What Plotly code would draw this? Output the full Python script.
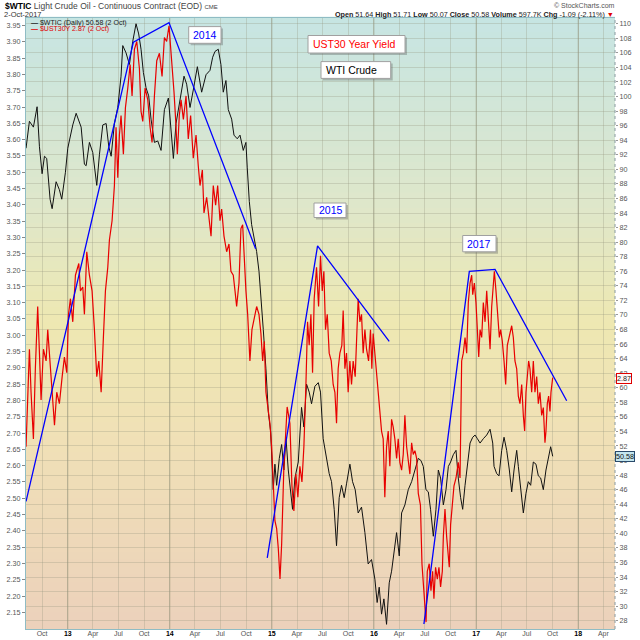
import pandas as pd
import plotly.graph_objects as go

# ---- data (t = decimal year) ----
wti_t = [2012.592, 2012.625, 2012.664, 2012.700, 2012.723, 2012.749, 2012.772, 2012.794, 2012.827, 2012.847,
         2012.886, 2012.918, 2012.941, 2012.977, 2013.000, 2013.049, 2013.082, 2013.114, 2013.131, 2013.163,
         2013.180, 2013.212, 2013.245, 2013.284, 2013.310, 2013.343, 2013.376, 2013.402, 2013.425, 2013.457,
         2013.490, 2013.522, 2013.539, 2013.571, 2013.604, 2013.637, 2013.669, 2013.695, 2013.718, 2013.741,
         2013.767, 2013.793, 2013.816, 2013.849, 2013.882, 2013.914, 2013.947,
         2013.986, 2014.018, 2014.035, 2014.061, 2014.100, 2014.139, 2014.165, 2014.198, 2014.230, 2014.270,
         2014.312, 2014.355, 2014.394, 2014.420, 2014.443, 2014.475, 2014.501, 2014.524, 2014.550, 2014.573,
         2014.606, 2014.629, 2014.661, 2014.688, 2014.720, 2014.746, 2014.759, 2014.779, 2014.802, 2014.825,
         2014.851, 2014.874, 2014.890, 2014.916, 2014.942, 2014.965, 2014.988, 2015.014, 2015.030, 2015.047,
         2015.073, 2015.096, 2015.118, 2015.138, 2015.161,
         2015.203, 2015.226, 2015.259, 2015.291, 2015.314, 2015.340, 2015.366, 2015.389, 2015.422, 2015.455,
         2015.477, 2015.503, 2015.530, 2015.562, 2015.585, 2015.611, 2015.634, 2015.660, 2015.683, 2015.709,
         2015.732, 2015.765, 2015.791, 2015.817, 2015.846, 2015.879, 2015.912, 2015.944, 2015.977, 2016.010,
         2016.032, 2016.052, 2016.075, 2016.098, 2016.124, 2016.150, 2016.173, 2016.199, 2016.222, 2016.248,
         2016.271, 2016.303, 2016.336, 2016.369, 2016.401, 2016.434,
         2016.460, 2016.483, 2016.509, 2016.532, 2016.554, 2016.581, 2016.607, 2016.630, 2016.652, 2016.679,
         2016.705, 2016.728, 2016.750, 2016.776, 2016.803, 2016.825, 2016.848, 2016.868, 2016.891, 2016.914,
         2016.940, 2016.966, 2016.989, 2017.012, 2017.038, 2017.070, 2017.103, 2017.136, 2017.162, 2017.175,
         2017.201, 2017.224, 2017.250, 2017.273, 2017.299, 2017.325, 2017.348, 2017.371, 2017.397, 2017.413,
         2017.439, 2017.462, 2017.488, 2017.511, 2017.534, 2017.560, 2017.586, 2017.609, 2017.632, 2017.658,
         2017.684, 2017.707, 2017.730, 2017.750]
wti_v = [92.9, 96.6, 95.8, 98.6, 93.1, 89.4, 91.8, 91.5, 85.9, 84.6,
         88.3, 87.2, 85.9, 89.6, 92.9, 96.1, 97.7, 96.6, 95.8, 90.7,
         90.5, 93.7, 92.3, 87.8, 92.0, 96.1, 96.3, 93.1, 91.8, 96.3,
         98.5, 102.8, 107.0, 106.0, 104.4, 107.6, 110.0, 108.6, 106.5, 103.3,
         101.2, 100.1, 96.9, 93.7, 93.9, 92.6, 98.2,
         99.8, 94.7, 91.5, 96.3, 99.6, 102.8, 101.7, 98.5, 100.9, 104.1,
         100.6, 103.0, 103.6, 105.4, 106.2, 106.5, 104.4, 100.6, 102.2, 98.2,
         96.9, 94.7, 94.2, 94.7, 92.6, 93.7, 90.2, 85.6, 82.4, 80.8,
         78.7, 76.0, 73.3, 68.0, 62.6, 56.7, 54.0, 46.0, 49.5, 46.6,
         50.3, 52.2, 48.7, 53.2, 48.7,
         43.3, 47.6, 49.8, 57.3, 54.6, 60.5, 59.4, 57.8, 60.2, 60.7,
         59.4, 53.0, 50.8, 48.2, 47.1, 43.3, 38.3, 44.9, 46.6, 44.9,
         46.8, 49.5, 47.1, 46.0, 42.8, 43.6, 40.1, 35.8, 36.4, 33.7,
         30.5, 32.6, 28.9, 31.0, 27.5, 33.2, 34.8, 38.0, 40.1, 36.9,
         42.8, 43.9, 46.0, 47.1, 48.7, 50.3,
         50.0, 49.2, 46.0, 45.7, 43.3, 39.6, 43.3, 48.7, 47.6, 43.9,
         46.0, 49.2, 49.8, 50.8, 51.4, 47.6, 44.9, 43.3, 46.6, 49.8,
         52.4, 53.2, 53.5, 53.0, 52.4, 53.0, 53.5, 54.3, 52.4, 49.2,
         48.2, 47.9, 51.4, 53.2, 51.4, 48.7, 45.7, 48.7, 51.4, 49.2,
         46.0, 42.8, 45.5, 47.1, 46.6, 49.8, 49.5, 47.9, 47.6, 46.0,
         48.7, 50.3, 51.9, 50.58]

ust_t = [2012.592, 2012.608, 2012.625, 2012.641, 2012.664, 2012.683, 2012.706, 2012.723, 2012.739, 2012.762,
         2012.788, 2012.804, 2012.827, 2012.847, 2012.870, 2012.892, 2012.918, 2012.945, 2012.967, 2012.990,
         2013.007, 2013.026, 2013.049, 2013.075, 2013.108, 2013.124, 2013.147, 2013.163, 2013.186, 2013.212,
         2013.238, 2013.261, 2013.284, 2013.304, 2013.327, 2013.349, 2013.369, 2013.392, 2013.408, 2013.434,
         2013.457, 2013.473, 2013.490, 2013.506, 2013.522, 2013.545, 2013.565, 2013.588, 2013.611, 2013.630,
         2013.653, 2013.676, 2013.702, 2013.718, 2013.735, 2013.758, 2013.784, 2013.807, 2013.826, 2013.849,
         2013.872, 2013.898, 2013.924, 2013.947,
         2013.969, 2013.992, 2014.008, 2014.028, 2014.041, 2014.057, 2014.074, 2014.093, 2014.110, 2014.133,
         2014.159, 2014.181, 2014.204, 2014.230, 2014.257, 2014.279, 2014.296, 2014.319, 2014.335, 2014.361,
         2014.384, 2014.404, 2014.426, 2014.449, 2014.469, 2014.492, 2014.508, 2014.531, 2014.557, 2014.580,
         2014.599, 2014.622, 2014.639, 2014.655, 2014.678, 2014.697, 2014.714, 2014.730, 2014.746, 2014.763,
         2014.785, 2014.805, 2014.825, 2014.851, 2014.874, 2014.893, 2014.910, 2014.926, 2014.942, 2014.965,
         2014.981, 2014.998, 2015.014, 2015.030, 2015.047, 2015.063, 2015.080, 2015.096, 2015.118, 2015.150,
         2015.177,
         2015.197, 2015.216, 2015.236, 2015.255, 2015.275, 2015.295, 2015.314, 2015.334, 2015.350, 2015.366,
         2015.383, 2015.399, 2015.415, 2015.438, 2015.458, 2015.477, 2015.494, 2015.510, 2015.526, 2015.543,
         2015.562, 2015.582, 2015.601, 2015.618, 2015.634, 2015.650, 2015.667, 2015.686, 2015.699, 2015.716,
         2015.732, 2015.748, 2015.765, 2015.781, 2015.797, 2015.817, 2015.830, 2015.846, 2015.863, 2015.879,
         2015.895, 2015.912, 2015.928, 2015.948, 2015.967, 2015.980, 2015.993, 2016.010, 2016.026, 2016.042,
         2016.058, 2016.075, 2016.091, 2016.107, 2016.124, 2016.140, 2016.156, 2016.173, 2016.189, 2016.205,
         2016.222, 2016.238, 2016.254, 2016.271, 2016.287, 2016.303, 2016.320, 2016.336, 2016.352, 2016.369,
         2016.385, 2016.401, 2016.418, 2016.434,
         2016.455, 2016.470, 2016.482, 2016.497, 2016.510,
         2016.522, 2016.541, 2016.558, 2016.574, 2016.587, 2016.603, 2016.620, 2016.636, 2016.652, 2016.669,
         2016.679, 2016.695, 2016.711, 2016.728, 2016.737, 2016.750, 2016.767, 2016.783, 2016.803, 2016.825,
         2016.842, 2016.858, 2016.874, 2016.891, 2016.907, 2016.923, 2016.940, 2016.956, 2016.966, 2016.982,
         2016.998, 2017.012, 2017.025, 2017.038, 2017.054, 2017.070, 2017.087, 2017.103, 2017.119, 2017.136,
         2017.152, 2017.168, 2017.178, 2017.194, 2017.211, 2017.227, 2017.240, 2017.256, 2017.273, 2017.289,
         2017.305, 2017.325, 2017.348, 2017.364, 2017.380, 2017.397, 2017.413, 2017.429, 2017.446, 2017.462,
         2017.475, 2017.488, 2017.501, 2017.514, 2017.527, 2017.544, 2017.560, 2017.576, 2017.593, 2017.609,
         2017.625, 2017.642, 2017.658, 2017.674, 2017.684, 2017.697, 2017.710, 2017.723, 2017.733, 2017.750]
ust_v = [2.658, 2.778, 2.957, 2.825, 2.682, 2.897, 3.088, 2.945, 2.801, 2.957,
         2.921, 3.017, 2.921, 2.825, 2.724, 2.825, 2.790, 2.873, 2.933, 2.885,
         3.064, 3.112, 3.041, 3.184, 3.220, 3.136, 3.148, 3.064, 3.256, 3.184,
         3.136, 3.017, 2.873, 2.921, 2.825, 2.993, 3.136, 3.208, 3.292, 3.351,
         3.459, 3.638, 3.483, 3.614, 3.674, 3.555, 3.698, 3.758, 3.830, 3.734,
         3.877, 3.901, 3.818, 3.686, 3.656, 3.758, 3.722, 3.638, 3.591, 3.734,
         3.842, 3.865, 3.794, 3.913,
         3.901, 3.949, 3.889, 3.794, 3.746, 3.662, 3.555, 3.674, 3.722, 3.662,
         3.734, 3.602, 3.674, 3.543, 3.614, 3.519, 3.459, 3.507, 3.375, 3.423,
         3.351, 3.304, 3.459, 3.399, 3.459, 3.351, 3.387, 3.304, 3.256, 3.280,
         3.196, 3.184, 3.136, 3.088, 3.160, 3.327, 3.339, 3.232, 3.136, 3.064,
         2.921, 3.017, 3.052, 3.088, 3.064, 3.005, 2.921, 2.981, 2.825, 2.778,
         2.730, 2.658, 2.538, 2.431, 2.407, 2.347, 2.252, 2.359, 2.598, 2.780,
         2.730,
         2.538, 2.461, 2.574, 2.503, 2.598, 2.550, 2.658, 2.849, 3.041, 2.969,
         3.064, 2.885, 3.112, 3.208, 3.088, 3.244, 3.136, 3.196, 3.017, 3.064,
         2.945, 2.921, 2.849, 2.825, 2.730, 2.897, 2.945, 2.969, 3.076, 2.897,
         2.945, 2.825, 2.921, 2.849, 2.921, 2.873, 2.993, 3.112, 3.041, 3.064,
         2.945, 3.017, 2.957, 2.921, 3.017, 2.897, 3.005, 2.945, 2.897, 2.825,
         2.778, 2.706, 2.682, 2.503, 2.658, 2.706, 2.598, 2.742, 2.718, 2.682,
         2.622, 2.682, 2.610, 2.586, 2.634, 2.754, 2.658, 2.610, 2.574, 2.670,
         2.634, 2.646, 2.622, 2.515,
         2.479, 2.299, 2.240, 2.200, 2.120,
         2.276, 2.299, 2.216, 2.276, 2.192, 2.288, 2.252, 2.288, 2.228, 2.276,
         2.383, 2.467, 2.383, 2.323, 2.288, 2.419, 2.479, 2.538, 2.562, 2.610,
         2.562, 2.921, 2.945, 2.993, 2.945, 3.100, 3.160, 3.184, 3.124, 3.160,
         3.100, 3.017, 2.933, 3.017, 2.993, 3.100, 3.041, 3.136, 3.041, 2.957,
         3.088, 3.160, 3.196, 3.136, 3.041, 2.993, 3.017, 2.981, 2.921, 2.849,
         2.969, 2.993, 3.029, 2.993, 2.921, 2.897, 2.813, 2.790, 2.849, 2.754,
         2.706, 2.825, 2.873, 2.921, 2.897, 2.825, 2.921, 2.825, 2.873, 2.790,
         2.825, 2.754, 2.778, 2.670, 2.706, 2.790, 2.813, 2.766, 2.825, 2.87]

# hand-drawn trend lines (on the yield scale)
trend_2014_t = [2012.592, 2013.643, 2013.992, 2014.841]
trend_2014_v = [2.49, 3.899, 3.959, 3.265]
trend_2015_t = [2014.955, 2015.448, 2016.150]
trend_2015_v = [2.317, 3.274, 2.981]
trend_2017_t = [2016.489, 2016.933, 2017.185, 2017.887]
trend_2017_v = [2.114, 3.196, 3.202, 2.799]

quarter_ticks = ['2012-10-01', '2013-01-01', '2013-04-01', '2013-07-01', '2013-10-01',
                 '2014-01-01', '2014-04-01', '2014-07-01', '2014-10-01',
                 '2015-01-01', '2015-04-01', '2015-07-01', '2015-10-01',
                 '2016-01-01', '2016-04-01', '2016-07-01', '2016-10-01',
                 '2017-01-01', '2017-04-01', '2017-07-01', '2017-10-01',
                 '2018-01-01', '2018-04-01']
quarter_labels = ['Oct', '13', 'Apr', 'Jul', 'Oct', '14', 'Apr', 'Jul', 'Oct',
                  '15', 'Apr', 'Jul', 'Oct', '16', 'Apr', 'Jul', 'Oct',
                  '17', 'Apr', 'Jul', 'Oct', '18', 'Apr']
yield_ticks = [round(2.15 + 0.05 * i, 2) for i in range(37)]


def year_to_date(t):
    y = int(t)
    start = pd.Timestamp(y, 1, 1)
    end = pd.Timestamp(y + 1, 1, 1)
    return start + (end - start) * (t - y)


def dates(ts):
    return [year_to_date(t) for t in ts]


# plot area in pixels (640x640 page)
PL, PR, PT, PB = 26, 615, 18, 629


def fx(px):
    return (px - PL) / (PR - PL)


def fy(py):
    return (PB - py) / (PB - PT)


FONT = 'Liberation Sans'
fig = go.Figure()

# WTI on the right axis (y), yield on the left axis (y2, drawn above)
fig.add_trace(go.Scatter(x=dates(wti_t), y=wti_v, yaxis='y', mode='lines',
                         line=dict(color='#111111', width=1)))
fig.add_trace(go.Scatter(x=dates(ust_t), y=ust_v, yaxis='y2', mode='lines',
                         line=dict(color='#e80000', width=1.2)))
for tt, vv in [(trend_2014_t, trend_2014_v), (trend_2015_t, trend_2015_v), (trend_2017_t, trend_2017_v)]:
    fig.add_trace(go.Scatter(x=dates(tt), y=vv, yaxis='y2', mode='lines',
                             line=dict(color='#0000ff', width=1.3)))

# background gradient (teal -> pale yellow -> peach)
stops = [(0.0, (198, 229, 227)), (0.3, (222, 231, 203)), (0.5, (238, 232, 178)),
         (0.68, (240, 225, 182)), (1.0, (236, 209, 187))]


def grad(f):
    for (f0, c0), (f1, c1) in zip(stops[:-1], stops[1:]):
        if f0 <= f <= f1:
            k = (f - f0) / (f1 - f0)
            return 'rgb(%d,%d,%d)' % tuple(round(a + (b - a) * k) for a, b in zip(c0, c1))
    return 'rgb(%d,%d,%d)' % stops[-1][1]


shapes = []
n_bands = 80
for i in range(n_bands):
    f = (i + 0.5) / n_bands
    shapes.append(dict(type='rect', xref='paper', yref='paper', x0=0, x1=1,
                       y0=1 - (i + 1) / n_bands, y1=1 - i / n_bands + 0.002,
                       fillcolor=grad(f), line=dict(width=0), layer='below'))

# darker year gridlines
for d in ['2013-01-01', '2014-01-01', '2015-01-01', '2016-01-01', '2017-01-01', '2018-01-01']:
    shapes.append(dict(type='line', xref='x', yref='paper', x0=d, x1=d, y0=0, y1=1,
                       line=dict(color='rgba(140,140,115,0.55)', width=1), layer='below'))

# dotted right axis line
shapes.append(dict(type='line', xref='paper', yref='paper', x0=1, x1=1, y0=0, y1=1,
                   line=dict(color='#8a9aa0', width=1, dash='dot')))

# text boxes with drop shadow
boxes = [
    ('2014', '#0000ff', 188.7, 221, 26.6, 43.3),
    ('UST30 Year Yield', '#ff0000', 308, 405, 35.5, 53),
    ('WTI Crude', '#000000', 321, 390.7, 61.6, 78.4),
    ('2015', '#0000ff', 314, 346, 203, 217.5),
    ('2017', '#0000ff', 462.7, 496, 235.5, 251.8),
]
annotations = []
for text, color, x0, x1, y0, y1 in boxes:
    shapes.append(dict(type='rect', xref='paper', yref='paper',
                       x0=fx(x0 + 2), x1=fx(x1 + 2), y0=fy(y1 + 2), y1=fy(y0 + 2),
                       fillcolor='rgba(90,90,90,0.35)', line=dict(width=0)))
    shapes.append(dict(type='rect', xref='paper', yref='paper',
                       x0=fx(x0), x1=fx(x1), y0=fy(y1), y1=fy(y0),
                       fillcolor='white', line=dict(color='#a0a0a0', width=1)))
    annotations.append(dict(text=text, xref='paper', yref='paper', x=fx(x0 + 2.5), y=fy((y0 + y1) / 2),
                            xanchor='left', yanchor='middle', showarrow=False,
                            font=dict(family=FONT, size=10.5, color=color)))

# header texts
annotations += [
    dict(text="<b>$WTIC</b> <span style='color:#444'>Light Crude Oil - Continuous Contract (EOD)</span>"
              " <span style='font-size:6px;color:#444'>CME</span>",
         x=fx(3), y=fy(6), xanchor='left', yanchor='middle',
         font=dict(family=FONT, size=8.5, color='#000')),
    dict(text='2-Oct-2017', x=fx(2), y=fy(14.5), xanchor='left', yanchor='middle',
         font=dict(family=FONT, size=7.5, color='#333')),
    dict(text='© StockCharts.com', x=fx(617), y=fy(5.5), xanchor='right', yanchor='middle',
         font=dict(family=FONT, size=7, color='#555')),
    dict(text="<b>Open</b> 51.64 <b>High</b> 51.71 <b>Low</b> 50.07 <b>Close</b> 50.58 "
              "<b>Volume</b> 597.7K <b>Chg</b> -1.09 (-2.11%) <span style='color:#e00000'>▼</span>",
         x=fx(616), y=fy(14.5), xanchor='right', yanchor='middle',
         font=dict(family=FONT, size=7.2, color='#222')),
    dict(text='<b>—</b> $WTIC (Daily) 50.58 (2 Oct)', x=fx(28.5), y=fy(22.5), xanchor='left', yanchor='middle',
         font=dict(family=FONT, size=7, color='#222')),
    dict(text='<b>—</b> $UST30Y 2.87 (2 Oct)', x=fx(28.5), y=fy(29.3), xanchor='left', yanchor='middle',
         font=dict(family=FONT, size=7, color='#e00000')),
    # last value tags
    dict(text='2.87', x=fx(616), y=fy(378), xanchor='left', yanchor='middle',
         bgcolor='#fff6f6', bordercolor='#e00000', borderwidth=1, borderpad=0,
         font=dict(family=FONT, size=7.2, color='#222')),
    dict(text='50.58', x=fx(615), y=fy(456), xanchor='left', yanchor='middle',
         bgcolor='#c4e6ee', bordercolor='#2a4a6a', borderwidth=1, borderpad=0,
         font=dict(family=FONT, size=7.2, color='#111')),
]
for a in annotations:
    a.setdefault('xref', 'paper')
    a.setdefault('yref', 'paper')
    a['showarrow'] = False

tick_font = dict(family=FONT, size=7.2, color='#555')
fig.update_layout(
    width=640, height=640,
    margin=dict(l=PL, r=640 - PR, t=PT, b=640 - PB, autoexpand=False),
    paper_bgcolor='white', plot_bgcolor='rgba(0,0,0,0)',
    showlegend=False,
    shapes=shapes, annotations=annotations,
    xaxis=dict(type='date', range=[year_to_date(2012.5916), year_to_date(2018.3605)],
               tickvals=quarter_ticks,
               ticktext=[("<span style='color:#000'><b>%s</b></span>" % s) if s.isdigit() else s
                         for s in quarter_labels],
               tickfont=dict(family=FONT, size=7, color='#555'),
               showgrid=True, gridcolor='rgba(150,150,125,0.3)', gridwidth=1,
               showline=True, linecolor='#8fbcc4', linewidth=1, mirror=True, automargin=False,
               ticks='', ticklabelstandoff=-2, zeroline=False),
    yaxis=dict(side='right', range=[26.86, 110.79], tick0=0, dtick=2, automargin=False,
               tickfont=tick_font, showgrid=True, gridcolor='rgba(150,150,125,0.3)', gridwidth=1,
               ticks='outside', ticklen=2, tickcolor='#999', zeroline=False, showline=False),
    yaxis2=dict(side='left', overlaying='y', range=[2.0988, 3.973], automargin=False,
                tickvals=yield_ticks, ticktext=['%.2f' % v for v in yield_ticks],
                tickfont=tick_font, showgrid=False, zeroline=False,
                showline=True, linecolor='#8fbcc4', linewidth=1,
                ticks='outside', ticklen=3, tickcolor='#888'),
)

# the page body has a default 8px margin; drop it so the 640x640 figure fills the window
fig.write_html('out.html', config={'displayModeBar': False},
               post_script="document.body.style.margin='0';document.body.style.overflow='hidden';")
